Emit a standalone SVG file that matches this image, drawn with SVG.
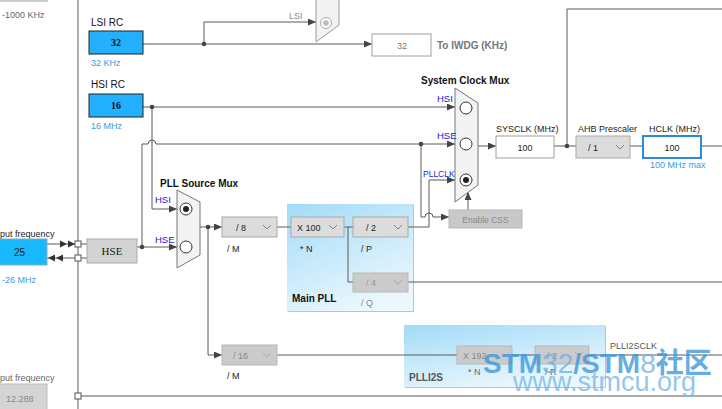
<svg xmlns="http://www.w3.org/2000/svg" width="722" height="409" viewBox="0 0 722 409">
<defs>
<style>
text{font-family:"Liberation Sans",Arial,sans-serif;font-size:9px;fill:#222}
.b{font-weight:bold;font-size:10px;fill:#111}
.lbl10{font-size:10px;fill:#111}
.blue{fill:#3a98e6}
.sel{fill:#1a1acc;font-size:9.5px}
.gray{fill:#8a8a8a}
.dg{fill:#555}
.ln{fill:none;stroke:#5a5a5a;stroke-width:1}
.ar{marker-end:url(#ah)}
.box{fill:#fff;stroke:#a0a0a0}
.dd{fill:#dcdcdc;stroke:#a9a9a9}
.ddx{fill:#cbcbcb;stroke:#b8b8b8}
.chev{fill:none;stroke:#777;stroke-width:0.9}
.chevx{fill:none;stroke:#a8a8a8;stroke-width:0.9}
.mux{fill:#f3f3f3;stroke:#777}
.rb{fill:#fff;stroke:#333}
.src{fill:#22b0ff;stroke:#222}
.srcv{font-family:"Liberation Serif",serif;font-weight:bold;font-size:10px;fill:#111}
.c{text-anchor:middle}
.dot{fill:#444}
.sq{fill:#fff;stroke:#555}
.panel{fill:url(#pll)}
</style>
<marker id="ah" markerWidth="9" markerHeight="8" refX="8" refY="3.5" orient="auto" markerUnits="userSpaceOnUse"><path d="M0,0 L8,3.5 L0,7 z" fill="#444"/></marker>
<linearGradient id="pll" x1="0" y1="0" x2="0.5" y2="1"><stop offset="0" stop-color="#a2dbf8"/><stop offset="1" stop-color="#eaf7fd"/></linearGradient>
</defs>
<rect width="722" height="409" fill="#fff"/>

<g id="main-pll-panel">
<rect class="panel" x="287" y="204" width="127" height="108"/>
<path d="M413.5,205 V311.5 H288" fill="none" stroke="#a9c9de"/>
<text class="b" x="292" y="301.5">Main PLL</text>
</g>
<g id="plli2s-panel">
<rect class="panel" x="404" y="325" width="202" height="63"/>
<path d="M605.5,326 V387.5 H405" fill="none" stroke="#a9c9de"/>
<text class="b dg" x="409" y="380.5">PLLI2S</text>
</g>

<g id="connectors">
<path class="ln" d="M78,0 V409"/>
<path class="ln" d="M78,396 H722"/>
<path class="ln ar" d="M143,44 H372"/>
<path class="ln ar" d="M204,44 V22 H316"/>
<path class="ln ar" d="M143,107 H455"/>
<path class="ln ar" d="M152,107 V209 H177"/>
<path class="ln ar" d="M142,247 V144 H148 a4,4 0 0 1 8,0 H455"/>
<path class="ln ar" d="M137,247 H177"/>
<path class="ln ar" d="M200,227 H222"/>
<path class="ln ar" d="M208,227 V355 H222"/>
<path class="ln" d="M277,227 H291"/>
<path class="ln" d="M344,227 H353"/>
<path class="ln" d="M348,227 V282 H353"/>
<path class="ln ar" d="M408,227 H429 V180 H455"/>
<path class="ln ar" d="M421,144 V217 H425 a4,4 0 0 1 8,0 H449"/>
<path class="ln ar" d="M468,210 V192"/>
<path class="ln" d="M408,282 H722"/>
<path class="ln ar" d="M478,146 H496"/>
<path class="ln" d="M554,146 H576"/>
<path class="ln" d="M567,146 V9 H722"/>
<path class="ln" d="M630,146 H643"/>
<path class="ln" d="M701,146 H722"/>
<path class="ln" d="M277,355 H457"/>
<path class="ln" d="M512,355 H535"/>
<path class="ln" d="M589,355 H722"/>
<path class="ln" d="M47,244 H87"/>
<path class="ln" d="M47,258 H87"/>
<polygon points="60,240.5 67,244 60,247.5" fill="#333"/>
<polygon points="68,240.5 75,244 68,247.5" fill="#333"/>
<polygon points="55,254.5 48,258 55,261.5" fill="#333"/>
<polygon points="63,254.5 56,258 63,261.5" fill="#333"/>
<rect class="sq" x="75" y="241" width="6" height="6"/>
<rect class="sq" x="75" y="255" width="6" height="6"/>
<rect class="sq" x="75" y="393" width="6" height="6"/>
<circle class="dot" cx="204" cy="44" r="2.3"/>
<circle class="dot" cx="152" cy="107" r="2.3"/>
<circle class="dot" cx="142" cy="247" r="2.3"/>
<circle class="dot" cx="208" cy="227" r="2.3"/>
<circle class="dot" cx="421" cy="144" r="2.3"/>
<circle class="dot" cx="567" cy="146" r="2.3"/>
</g>

<g id="top-left">
<rect x="-1" y="-10" width="48" height="11" fill="#fff" stroke="#999"/>
<text x="2" y="17.5" style="fill:#666">-1000 KHz</text>
</g>

<g id="lsi-rc">
<text class="lbl10" x="91" y="25.5">LSI RC</text>
<rect class="src" x="89" y="31" width="54" height="23"/>
<text class="srcv c" x="116" y="46">32</text>
<text class="blue" x="91" y="66">32 KHz</text>
</g>

<g id="hsi-rc">
<text class="lbl10" x="91" y="88">HSI RC</text>
<rect class="src" x="89" y="94" width="54" height="23"/>
<text class="srcv c" x="116" y="109">16</text>
<text class="blue" x="91" y="128.5">16 MHz</text>
</g>

<g id="lsi-mux">
<polygon class="mux" points="316,-5 339,-5 339,25 316,42" style="stroke:#999"/>
<circle cx="326" cy="23" r="5.5" fill="#fff" stroke="#aaa"/>
<circle cx="326" cy="23" r="2.8" fill="#bbb"/>
<text class="gray" x="289" y="18.5">LSI</text>
</g>

<g id="iwdg">
<rect class="box" x="372" y="34" width="59" height="22"/>
<text class="c" x="402" y="48.5" style="fill:#777">32</text>
<text class="b" x="437" y="48.5" style="fill:#777">To IWDG (KHz)</text>
</g>

<g id="system-clock-mux">
<text class="b" x="421" y="83.5">System Clock Mux</text>
<polygon class="mux" points="455,88 478,103 478,185 455,202"/>
<circle class="rb" cx="466" cy="108" r="6"/>
<circle class="rb" cx="466" cy="144" r="6"/>
<circle class="rb" cx="466" cy="180" r="6"/>
<circle cx="466" cy="180" r="3" fill="#222"/>
<text class="sel" x="437" y="101.5">HSI</text>
<text class="sel" x="437" y="138.5">HSE</text>
<text class="sel" x="423" y="177" style="font-size:8.5px">PLLCLK</text>
</g>

<g id="enable-css">
<rect x="449" y="210" width="73" height="18" fill="#c8c8c8" stroke="#b8b8b8"/>
<text class="c" x="485.5" y="222.5" style="fill:#8a8a8a;font-size:8.5px">Enable CSS</text>
</g>

<g id="sysclk">
<text x="496" y="131.5">SYSCLK (MHz)</text>
<rect class="box" x="496" y="136" width="58" height="22"/>
<text class="c" x="525" y="150.5">100</text>
</g>

<g id="ahb-prescaler">
<text x="578" y="131.5">AHB Prescaler</text>
<rect class="dd" x="576" y="136" width="54" height="22"/>
<text x="588" y="150.5">/ 1</text>
<path class="chev" d="M616,145 l4,4 l4,-4"/>
</g>

<g id="hclk">
<text x="649" y="131.5">HCLK (MHz)</text>
<rect x="643" y="136" width="58" height="22" fill="#fff" stroke="#2a8ae0" stroke-width="2"/>
<text class="c" x="672" y="150.5">100</text>
<text class="blue" x="650" y="168">100 MHz max</text>
</g>

<g id="input-hse">
<text x="0" y="236.5">put frequency</text>
<rect x="-1" y="239" width="48" height="26" fill="#18b9fc" stroke="#8ab"/>
<text x="14" y="256" style="font-size:10px">25</text>
<text class="blue" x="2" y="282.5">-26 MHz</text>
</g>

<g id="hse">
<rect x="87" y="239" width="50" height="24" fill="#d3d3d3" stroke="#aaa"/>
<text class="c" x="112" y="255" style="font-family:'Liberation Serif',serif;font-size:11px">HSE</text>
</g>

<g id="input-i2s">
<text x="0" y="380.5" style="fill:#666">put frequency</text>
<rect x="-1" y="384" width="48" height="30" fill="#d4d4d4" stroke="#bbb"/>
<text x="6" y="401.5" style="fill:#888">12.288</text>
</g>

<g id="pll-source-mux">
<text class="b" x="160" y="186.5">PLL Source Mux</text>
<polygon class="mux" points="177,190 200,202 200,255 177,268"/>
<circle class="rb" cx="186" cy="209" r="6"/>
<circle cx="186" cy="209" r="3" fill="#222"/>
<circle class="rb" cx="186" cy="247" r="6"/>
<text class="sel" x="155" y="202.5">HSI</text>
<text class="sel" x="155" y="242.5">HSE</text>
</g>

<g id="div-m">
<rect class="dd" x="222" y="217" width="55" height="20"/>
<text x="236" y="230.5">/ 8</text>
<path class="chev" d="M263,225 l4,4 l4,-4"/>
<text x="227" y="251.5">/ M</text>
</g>

<g id="mul-n">
<rect class="dd" x="291" y="217" width="53" height="20"/>
<text x="297" y="230.5">X 100</text>
<path class="chev" d="M329,225 l4,4 l4,-4"/>
<text x="300" y="251.5">* N</text>
</g>

<g id="div-p">
<rect class="dd" x="353" y="217" width="55" height="20"/>
<text x="366" y="230.5">/ 2</text>
<path class="chev" d="M394,225 l4,4 l4,-4"/>
<text x="361" y="251.5">/ P</text>
</g>

<g id="div-q">
<rect class="ddx" x="353" y="273" width="55" height="19"/>
<text x="366" y="286" style="fill:#999">/ 4</text>
<path class="chevx" d="M394,280 l4,4 l4,-4"/>
<text x="361" y="305.5" style="fill:#888">/ Q</text>
</g>

<g id="div-m-i2s">
<rect class="ddx" x="222" y="345" width="55" height="20"/>
<text x="233" y="358.5" style="fill:#888">/ 16</text>
<path class="chevx" d="M263,353 l4,4 l4,-4"/>
<text x="227" y="378.5">/ M</text>
</g>

<g id="mul-n-i2s">
<rect class="ddx" x="457" y="346" width="55" height="18"/>
<text x="463" y="358.5" style="fill:#888">X 192</text>
<text x="468" y="375" style="fill:#666">* N</text>
</g>

<g id="div-r-i2s">
<rect class="ddx" x="535" y="346" width="54" height="18"/>
<text x="547" y="358.5" style="fill:#888">/ 2</text>
<path class="chevx" d="M575,352 l4,4 l4,-4"/>
<text x="545" y="375" style="fill:#666">/ R</text>
</g>

<g id="plli2sclk">
<text x="610" y="348.5" style="fill:#555">PLLI2SCLK</text>
</g>

<g id="watermark" opacity="0.78">
<text x="483" y="373" style="font-size:28px;font-weight:bold;fill:#3b97da;font-family:'Liberation Sans','Noto Sans CJK SC',sans-serif">STM<tspan style="font-weight:normal;fill:#6eb2e6">32</tspan>/STM<tspan style="font-weight:normal;fill:#6eb2e6">8</tspan>社区</text>
<text x="513" y="391" style="font-size:27px;fill:#7ab8e8">www.stmcu.org</text>
</g>
</svg>
